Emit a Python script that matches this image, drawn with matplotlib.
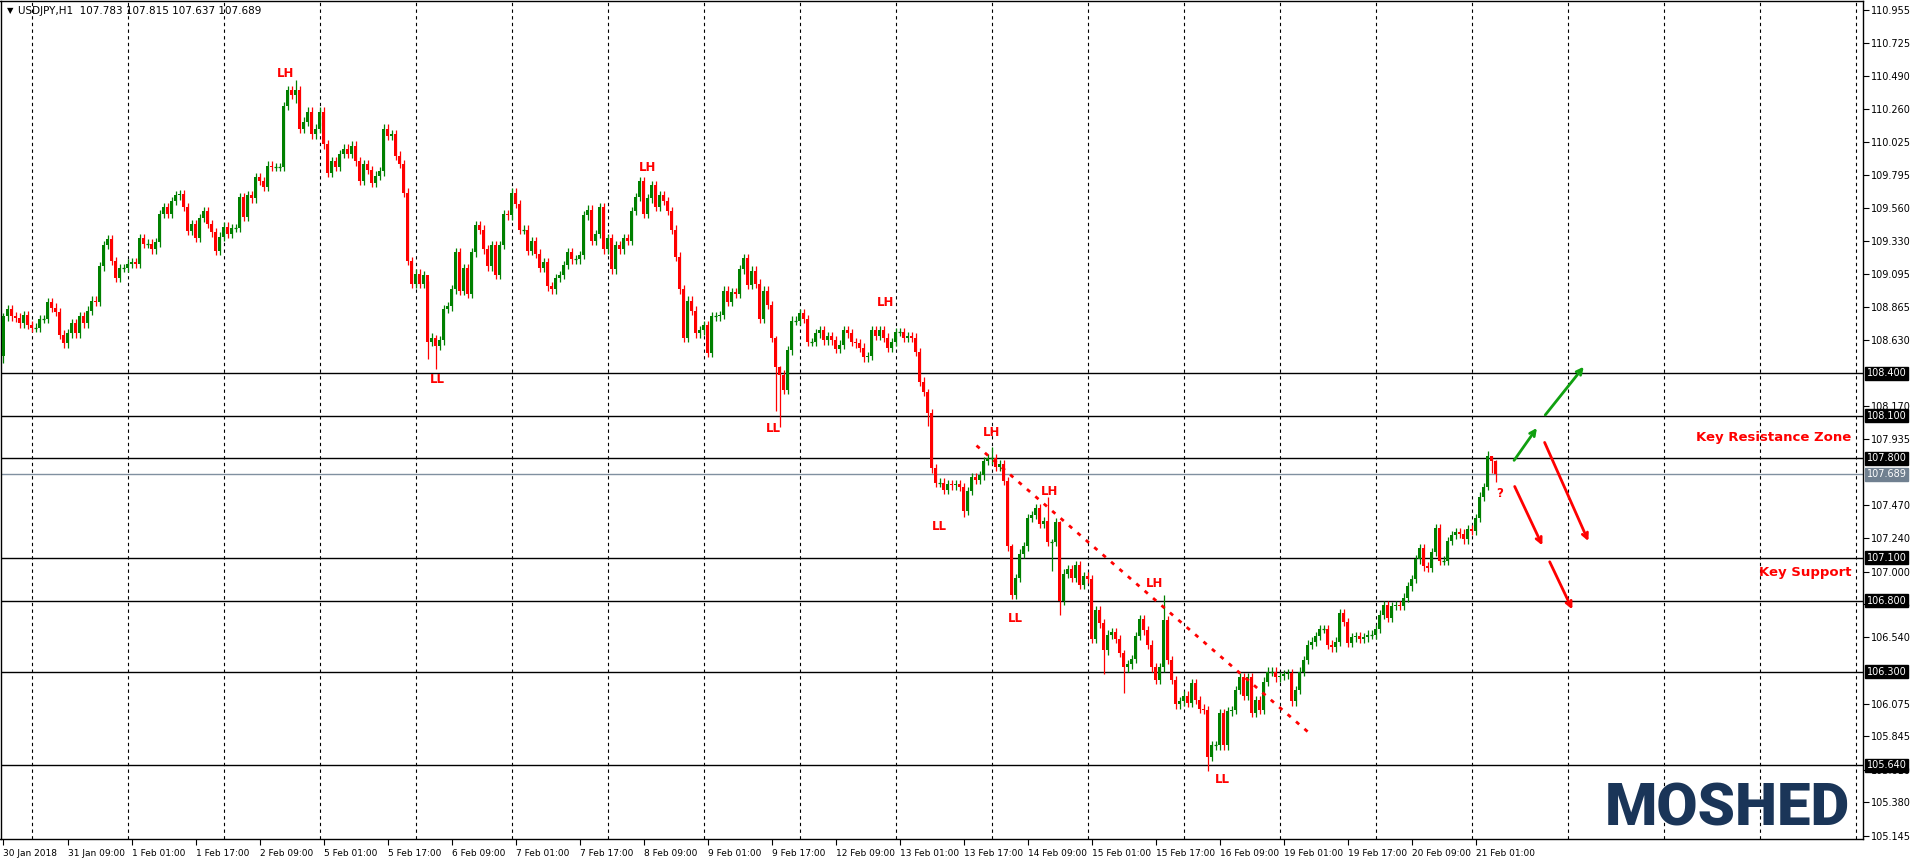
import matplotlib
matplotlib.use("Agg")
import matplotlib.pyplot as plt
import numpy as np

closes = [
108.80,108.85,108.80,108.79,108.75,108.81,108.74,108.72,108.72,108.78,
108.78,108.90,108.86,108.83,108.67,108.61,108.68,108.75,108.68,108.80,
108.75,108.84,108.91,108.90,109.15,109.30,109.34,109.19,109.07,109.14,
109.14,109.17,109.18,109.17,109.35,109.31,109.31,109.27,109.32,109.52,
109.57,109.52,109.61,109.65,109.66,109.57,109.40,109.45,109.35,109.49,
109.54,109.45,109.39,109.26,109.36,109.43,109.38,109.42,109.42,109.64,
109.50,109.65,109.63,109.78,109.75,109.71,109.86,109.85,109.85,109.85,
110.28,110.39,110.36,110.39,110.12,110.17,110.24,110.08,110.12,110.24,
110.01,109.81,109.89,109.85,109.94,109.98,109.94,110.00,109.89,109.75,
109.87,109.83,109.74,109.79,109.82,110.12,110.07,110.08,109.93,109.87,
109.67,109.19,109.03,109.10,109.03,109.09,108.62,108.65,108.59,108.63,
108.85,108.87,108.99,109.25,108.98,109.14,108.96,109.25,109.44,109.41,
109.27,109.15,109.30,109.09,109.30,109.52,109.51,109.67,109.59,109.41,
109.41,109.26,109.33,109.24,109.14,109.18,109.01,108.99,109.07,109.09,
109.16,109.25,109.20,109.20,109.23,109.51,109.55,109.33,109.38,109.57,
109.27,109.35,109.13,109.30,109.27,109.35,109.33,109.54,109.64,109.75,
109.52,109.63,109.72,109.57,109.65,109.61,109.54,109.41,109.22,108.99,
108.65,108.91,108.84,108.68,108.70,108.74,108.54,108.80,108.80,108.81,
108.98,108.90,108.97,108.96,109.13,109.21,109.02,109.12,109.03,108.78,
108.98,108.88,108.65,108.44,108.39,108.28,108.56,108.77,108.77,108.82,
108.78,108.62,108.62,108.68,108.70,108.63,108.66,108.63,108.57,108.60,
108.70,108.68,108.62,108.61,108.58,108.51,108.52,108.70,108.66,108.70,
108.65,108.58,108.62,108.69,108.69,108.65,108.66,108.65,108.55,108.34,
108.27,108.12,107.73,107.63,107.63,107.58,107.62,107.61,107.62,107.60,
107.43,107.57,107.67,107.65,107.68,107.78,107.80,107.80,107.74,107.76,
107.64,107.18,106.84,106.96,107.13,107.18,107.38,107.40,107.45,107.34,
107.36,107.21,107.21,107.35,106.80,106.99,107.02,106.96,107.05,106.91,
106.97,106.95,106.53,106.73,106.64,106.45,106.56,106.58,106.53,106.43,
106.33,106.35,106.39,106.55,106.67,106.59,106.49,106.33,106.24,106.33,
106.66,106.38,106.24,106.07,106.09,106.13,106.08,106.22,106.10,106.04,
106.03,105.70,105.78,105.78,106.01,105.78,106.02,106.03,106.17,106.26,
106.13,106.26,106.01,106.10,106.03,106.23,106.30,106.30,106.26,106.27,
106.28,106.29,106.09,106.17,106.30,106.38,106.49,106.51,106.55,106.60,
106.60,106.49,106.47,106.51,106.71,106.65,106.50,106.54,106.55,106.53,
106.54,106.56,106.56,106.60,106.70,106.77,106.68,106.76,106.77,106.76,
106.82,106.90,106.95,107.09,107.17,107.04,107.03,107.14,107.31,107.08,
107.08,107.22,107.26,107.28,107.27,107.23,107.30,107.29,107.38,107.53,
107.60,107.82,107.783,107.689,
]
first_open = 108.52
# notable wick extremes: index -> (high, low)
wick_extremes = {
    0: (108.82, 108.47), 73: (110.46, 110.30), 106: (109.05, 108.50),
    108: (108.67, 108.43), 193: (108.66, 108.13), 194: (108.45, 108.02),
    231: (108.29, 108.03), 240: (107.63, 107.39), 247: (107.88, 107.76),
    252: (107.20, 106.81), 261: (107.53, 107.18), 262: (107.23, 107.01),
    264: (107.36, 106.70), 275: (106.67, 106.28), 280: (106.45, 106.15),
    290: (106.84, 106.30), 301: (106.06, 105.60), 371: (107.85, 107.58),
    372: (107.815, 107.70), 373: (107.79, 107.637),
}

tick_labels = ["30 Jan 2018", "31 Jan 09:00", "1 Feb 01:00", "1 Feb 17:00", "2 Feb 09:00",
               "5 Feb 01:00", "5 Feb 17:00", "6 Feb 09:00", "7 Feb 01:00", "7 Feb 17:00",
               "8 Feb 09:00", "9 Feb 01:00", "9 Feb 17:00", "12 Feb 09:00", "13 Feb 01:00",
               "13 Feb 17:00", "14 Feb 09:00", "15 Feb 01:00", "15 Feb 17:00", "16 Feb 09:00",
               "19 Feb 01:00", "19 Feb 17:00", "20 Feb 09:00", "21 Feb 01:00"]
price_ticks = [110.955, 110.725, 110.490, 110.260, 110.025, 109.795, 109.560, 109.330,
               109.095, 108.865, 108.630, 108.170, 107.935, 107.470, 107.240, 107.000,
               106.775, 106.540, 106.075, 105.845, 105.610, 105.380, 105.145]
levels = [108.400, 108.100, 107.800, 107.100, 106.800, 106.300, 105.640]
current_price = 107.689

swing_labels = [("LH", 70.5, 110.505), ("LL", 108.5, 108.355), ("LH", 161, 109.845),
                ("LH", 220.5, 108.896), ("LL", 192.5, 108.01), ("LH", 247, 107.98),
                ("LL", 234, 107.32), ("LH", 261.5, 107.57), ("LL", 253, 106.67),
                ("LH", 287.75, 106.92), ("LL", 304.75, 105.54), ("?", 374, 107.55)]
trend_line = [(243.25, 107.89), (326.75, 105.86)]
green_arrows = [((377.25, 107.77), (383.75, 108.03)), ((385, 108.09), (395.5, 108.46))]
red_arrows = [((377.5, 107.62), (385, 107.17)), ((386.25, 107.09), (392.5, 106.72)),
              ((385, 107.93), (396.5, 107.20))]

W, H = 1916, 860
fig = plt.figure(figsize=(W / 100, H / 100), dpi=100)
ax = fig.add_axes([0.5 / W, 21 / H, 1862 / W, 838 / H])
ax.set_xlim(-0.75, 464.75)
ax.set_ylim(105.122, 111.018)

n = len(closes)
opens = np.array([first_open] + closes[:-1])
cl = np.array(closes)
GREEN, RED = "#008000", "#ff0000"
for i in range(n):
    o, c = opens[i], cl[i]
    col = GREEN if c >= o else RED
    hi, lo = wick_extremes.get(i, (max(o, c) + 0.03, min(o, c) - 0.03))
    ax.vlines(i, lo, hi, color=col, linewidth=0.9, zorder=3)
    bh = abs(c - o)
    if bh < 0.006:
        ax.hlines(c, i - 0.45, i + 0.45, color=col, linewidth=0.9, zorder=3)
    else:
        ax.bar(i, bh, bottom=min(o, c), width=0.7, color=col, linewidth=0, zorder=3)

for gx in range(7, 470, 24):
    ax.axvline(gx, color="black", linestyle=(0, (3, 3)), linewidth=0.8, zorder=1)

for lv in levels:
    ax.axhline(lv, color="black", linewidth=1.0, zorder=2)
ax.axhline(current_price, color="#8090a0", linewidth=1.0, zorder=2)

ax.set_xticks(np.arange(0, 16 * len(tick_labels), 16))
ax.set_xticklabels(tick_labels, fontsize=6.5, ha="left")
ax.tick_params(axis="x", length=4, pad=3, direction="out")
ax.yaxis.tick_right()
ax.set_yticks(price_ticks)
ax.set_yticklabels([f"{p:.3f}" for p in price_ticks], fontsize=7)
ax.tick_params(axis="y", length=4, pad=2)
for s in ax.spines.values():
    s.set_linewidth(1.0)

def box_label(val, fc):
    ax.annotate(f"{val:.3f}", xy=(1.0, val), xycoords=("axes fraction", "data"),
                xytext=(3, 0), textcoords="offset points", fontsize=7, color="white",
                va="center", ha="left", zorder=10,
                bbox=dict(boxstyle="square,pad=0.15", fc=fc, ec=fc),
                annotation_clip=False)

for lv in levels:
    box_label(lv, "black")
box_label(current_price, "#708090")

for t, x, y in swing_labels:
    ax.text(x, y, t, color=RED, fontsize=8.5, fontweight="bold", ha="center", va="center", zorder=5)

(x0, y0), (x1, y1) = trend_line
ax.plot([x0, x1], [y0, y1], color=RED, linestyle=(0, (1.5, 2.5)), linewidth=2, zorder=4)

for (a, b) in green_arrows:
    ax.annotate("", xy=b, xytext=a, arrowprops=dict(arrowstyle="->", color="#10a010", lw=2,
                                                    mutation_scale=10))
for (a, b) in red_arrows:
    ax.annotate("", xy=b, xytext=a, arrowprops=dict(arrowstyle="->", color=RED, lw=2,
                                                    mutation_scale=10))

ax.text(462, 107.95, "Key Resistance Zone", color=RED, fontsize=9.5, fontweight="bold",
        ha="right", va="center")
ax.text(462, 107.00, "Key Support", color=RED, fontsize=9.5, fontweight="bold",
        ha="right", va="center")

fig.text(7 / W, 1 - 11 / H, "\u25BC", fontsize=6, va="center", ha="left")
fig.text(18 / W, 1 - 11 / H, "USDJPY,H1  107.783 107.815 107.637 107.689", fontsize=7.5,
         va="center", ha="left")

fig.text(1605 / W, 1 - 825 / H, "MOSHED", fontsize=43, fontweight="black", family="Roboto",
         color="#1a3558", ha="left", va="baseline")

fig.savefig("out.png", dpi=100)
